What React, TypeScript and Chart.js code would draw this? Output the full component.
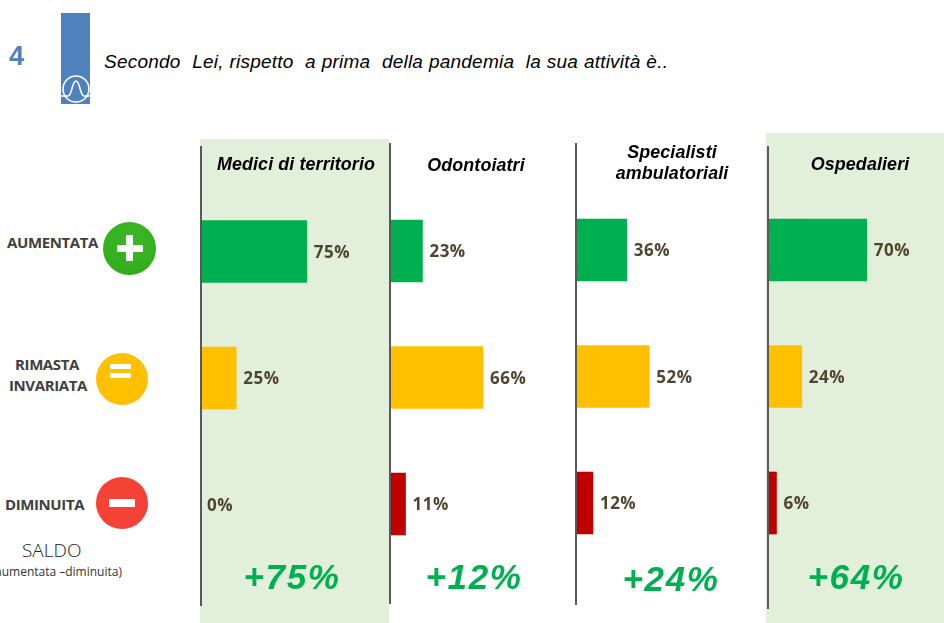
import React, { useEffect, useRef } from "react";
import { Chart, registerables } from "chart.js";

Chart.register(...registerables);

const categories = ["AUMENTATA", "RIMASTA INVARIATA", "DIMINUITA"];
const rows = [1, 2, 3];
const medici = [75, 25, 0];
const odontoiatri = [23, 66, 11];
const specialisti = [36, 52, 12];
const ospedalieri = [70, 24, 6];
const saldi = ["+75%", "+12%", "+24%", "+64%"];
const barColors = ["#00B050", "#FFC000", "#C00000"];

const question = "Secondo  Lei, rispetto  a prima  della pandemia  la sua attività è..";

const panels = [
  { title: ["Medici di territorio"], values: medici, saldo: saldi[0], axisX: 200.5, top: 146, bottom: 606, firstRow: 251.5, titleX: 296, titleY: 164, saldoX: 292, saldoY: 577 },
  { title: ["Odontoiatri"], values: odontoiatri, saldo: saldi[1], axisX: 390, top: 143, bottom: 604, firstRow: 251, titleX: 476, titleY: 165, saldoX: 474, saldoY: 577 },
  { title: ["Specialisti", "ambulatoriali"], values: specialisti, saldo: saldi[2], axisX: 576, top: 143, bottom: 605, firstRow: 250, titleX: 672, titleY: 163, saldoX: 671, saldoY: 579 },
  { title: ["Ospedalieri"], values: ospedalieri, saldo: saldi[3], axisX: 768, top: 146, bottom: 609, firstRow: 250, titleX: 860, titleY: 164, saldoX: 856, saldoY: 577 },
];

const ROW_STEP = 126.5;
const PX_PER_PERCENT = 1.41;
const PAD_LEFT = 2;
const PLOT_WIDTH = 175;

const valueLabels = {
  id: "valueLabels",
  afterDatasetsDraw(chart: any) {
    const { ctx } = chart;
    const meta = chart.getDatasetMeta(0);
    const data = chart.data.datasets[0].data;
    ctx.save();
    ctx.font = '700 17px "Open Sans"';
    (ctx as any).letterSpacing = "0.5px";
    ctx.fillStyle = "#4F4630";
    ctx.textBaseline = "middle";
    ctx.textAlign = "left";
    meta.data.forEach((bar: any, i: number) => {
      const gap = data[i].x === 0 ? 6 : 7;
      ctx.fillText(`${data[i].x}%`, bar.x + gap, bar.y + 1.5);
    });
    ctx.restore();
  },
};

function Panel({ p }: { p: (typeof panels)[number] }) {
  const ref = useRef<HTMLCanvasElement>(null);
  useEffect(() => {
    const chart = new Chart(ref.current!, {
      type: "bar",
      data: {
        labels: categories,
        datasets: [
          {
            data: p.values.map((v, i) => ({ x: v, y: rows[i] })),
            backgroundColor: barColors,
            barThickness: 62,
            borderWidth: 0,
          },
        ],
      } as any,
      options: {
        indexAxis: "y",
        animation: false,
        responsive: false,
        maintainAspectRatio: false,
        layout: { padding: { left: PAD_LEFT, right: 0, top: 0, bottom: 0 } },
        plugins: { legend: { display: false }, tooltip: { enabled: false } },
        scales: {
          x: {
            type: "linear",
            display: false,
            bounds: "data",
            min: 0,
            max: PLOT_WIDTH / PX_PER_PERCENT,
          },
          y: {
            type: "linear",
            bounds: "data",
            offset: false,
            reverse: true,
            min: 1 - (p.firstRow - p.top) / ROW_STEP,
            max: 1 + (p.bottom - p.firstRow) / ROW_STEP,
            ticks: { display: false },
            grid: { display: false },
            border: { display: true, color: "#595959", width: 2, z: 2 },
            afterFit: (s: any) => {
              s.width = 0;
            },
          },
        },
      } as any,
      plugins: [valueLabels],
    });
    return () => chart.destroy();
  }, [p]);
  return (
    <canvas
      ref={ref}
      width={PAD_LEFT + PLOT_WIDTH}
      height={p.bottom - p.top}
      style={{ position: "absolute", left: p.axisX - PAD_LEFT, top: p.top, width: PAD_LEFT + PLOT_WIDTH, height: p.bottom - p.top }}
    />
  );
}

const abs = (s: React.CSSProperties): React.CSSProperties => ({ position: "absolute", whiteSpace: "nowrap", ...s });

const rowLabelStyle: React.CSSProperties = {
  fontFamily: '"Open Sans"',
  fontWeight: 700,
  fontSize: 15,
  lineHeight: "21px",
  color: "#404040",
  textAlign: "center",
  letterSpacing: "-0.4px",
};

function Icon({ cx, cy, r, bg, children }: { cx: number; cy: number; r: number; bg: string; children?: React.ReactNode }) {
  return (
    <div style={{ position: "absolute", left: cx - r, top: cy - r, width: 2 * r, height: 2 * r, borderRadius: "50%", background: bg }}>
      {children}
    </div>
  );
}

const bar = (l: number, t: number, w: number, h: number) => (
  <div style={{ position: "absolute", left: l, top: t, width: w, height: h, background: "#FFF", borderRadius: 1 }} />
);

export default function App() {
  return (
    <div style={{ position: "absolute", left: 0, top: 0, width: 944, height: 623, overflow: "hidden", background: "#FFF" }}>
      <div style={{ position: "absolute", left: 200, top: 139, width: 189, height: 484, background: "#E2EFDA" }} />
      <div style={{ position: "absolute", left: 766, top: 133, width: 178, height: 490, background: "#E2EFDA" }} />

      <div style={abs({ left: 9, top: 41, fontFamily: '"Liberation Sans"', fontWeight: 700, fontSize: 27, lineHeight: "30px", color: "#4F81BD" })}>4</div>
      <div style={{ position: "absolute", left: 61, top: 13, width: 29, height: 91, background: "#4F81BD" }} />
      <svg style={{ position: "absolute", left: 59, top: 71.5 }} width={34} height={34} viewBox="0 0 34 34" fill="none" stroke="#FFF" strokeWidth={1.6}>
        <circle cx={17} cy={17} r={13} />
        <path d="M2 24 H9 C13 24 13 9 17 9 C21 9 21 24 25 24 H32" />
      </svg>
      <div style={abs({ left: 104, top: 51, fontFamily: '"Liberation Sans"', fontStyle: "italic", fontSize: 19, lineHeight: "22px", letterSpacing: "0.22px", wordSpacing: "0.3px", color: "#000", whiteSpace: "pre" })}>{question}</div>

      <div style={abs({ ...rowLabelStyle, left: 7, top: 232 })}>{categories[0]}</div>
      <div style={abs({ ...rowLabelStyle, left: 9, top: 354, width: 76 })}>
        RIMASTA
        <br />
        INVARIATA
      </div>
      <div style={abs({ ...rowLabelStyle, left: 5, top: 494 })}>{categories[2]}</div>

      <Icon cx={129.5} cy={248} r={26.5} bg="radial-gradient(circle at 50% 30%, #3DB526 0%, #35B020 60%, #2AA512 100%)">
        {bar(13.5, 23, 26, 7.5)}
        {bar(23, 13.5, 7, 26)}
      </Icon>
      <Icon cx={122} cy={378.5} r={26} bg="#FFC000">
        {bar(14, 11.5, 21, 5)}
        {bar(14, 20.5, 21, 5)}
      </Icon>
      <Icon cx={122} cy={503} r={26} bg="#F44336">
        {bar(13, 22, 26, 8)}
      </Icon>

      <div style={abs({ left: 22, top: 538, fontFamily: '"Open Sans"', fontWeight: 300, fontSize: 19, lineHeight: "24px", color: "#222" })}>SALDO</div>
      <div style={abs({ right: 944 - 122, top: 563, fontFamily: '"Open Sans"', fontSize: 12, lineHeight: "18px", color: "#333" })}>(aumentata –diminuita)</div>

      {panels.map((p) => (
        <React.Fragment key={p.saldo}>
          <Panel p={p} />
          <div
            style={abs({
              left: p.titleX - 100,
              width: 200,
              top: p.titleY - (p.title.length * 21) / 2,
              textAlign: "center",
              fontFamily: '"Liberation Sans"',
              fontWeight: 700,
              fontStyle: "italic",
              fontSize: 17.9,
              lineHeight: "21px",
              letterSpacing: "0.1px",
              color: "#000",
            })}
          >
            {p.title.map((t) => (
              <div key={t}>{t}</div>
            ))}
          </div>
          <div
            style={abs({
              left: p.saldoX - 100,
              width: 200,
              top: p.saldoY - 22,
              textAlign: "center",
              fontFamily: '"Liberation Sans"',
              fontWeight: 700,
              fontStyle: "italic",
              fontSize: 35,
              lineHeight: "44px",
              letterSpacing: "1.6px",
              color: "#00B050",
            })}
          >
            {p.saldo}
          </div>
        </React.Fragment>
      ))}
    </div>
  );
}
